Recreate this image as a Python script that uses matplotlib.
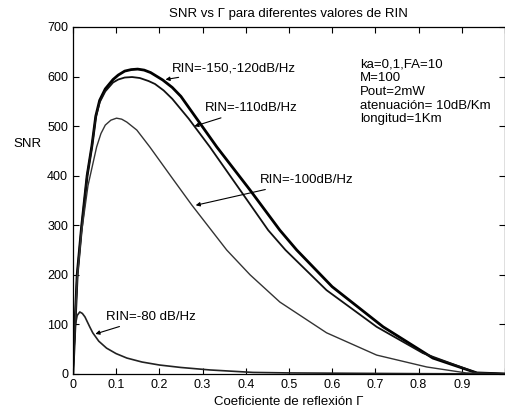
import matplotlib
matplotlib.use("Agg")
import matplotlib.pyplot as plt

plt.rcParams["font.family"] = ["Liberation Sans", "DejaVu Sans"]

# RIN = -150, -120 dB/Hz
g1 = [0.0, 0.005, 0.01, 0.02, 0.033, 0.044, 0.053, 0.062, 0.075, 0.093, 0.105,
      0.12, 0.135, 0.15, 0.165, 0.18, 0.208, 0.23, 0.25, 0.285, 0.333, 0.41,
      0.479, 0.518, 0.60, 0.718, 0.833, 0.935, 1.0]
snr1 = [0, 100, 200, 295, 400, 460, 520, 552, 575, 594, 603, 611, 614, 615,
        613, 608, 593, 578, 560, 517, 458, 371, 290, 250, 176, 95, 32, 2, 0]

# RIN = -110 dB/Hz
g2 = [0.0, 0.005, 0.01, 0.02, 0.033, 0.044, 0.053, 0.062, 0.075, 0.093, 0.105,
      0.12, 0.137, 0.155, 0.175, 0.19, 0.21, 0.23, 0.268, 0.317, 0.387, 0.452,
      0.492, 0.587, 0.703, 0.81, 0.935, 1.0]
snr2 = [0, 100, 200, 295, 400, 458, 518, 548, 570, 588, 594, 598, 599, 597,
        591, 585, 572, 555, 515, 458, 371, 290, 250, 169, 95, 42, 2, 0]

# RIN = -100 dB/Hz
g3 = [0.0, 0.005, 0.01, 0.02, 0.035, 0.055, 0.065, 0.075, 0.088, 0.101, 0.113,
      0.125, 0.148, 0.178, 0.23, 0.275, 0.356, 0.41, 0.479, 0.587, 0.703,
      0.819, 0.91, 1.0]
snr3 = [0, 95, 190, 285, 380, 458, 485, 502, 512, 516, 514, 508, 492, 458,
        395, 341, 250, 200, 145, 83, 38, 14, 2, 0]

# RIN = -80 dB/Hz
g4 = [0.0, 0.005, 0.01, 0.016, 0.022, 0.028, 0.039, 0.046, 0.06, 0.078, 0.1,
      0.125, 0.16, 0.2, 0.25, 0.317, 0.417, 0.5, 0.6, 0.7, 0.8, 0.9, 1.0]
snr4 = [0, 95, 118, 125, 122, 115, 95, 83, 66, 52, 41, 32, 24, 18, 13, 8, 3,
        2, 1.5, 1, 0.5, 0.2, 0]

params = ["ka=0,1,FA=10", "M=100", "Pout=2mW", "atenuación= 10dB/Km",
          "longitud=1Km"]

fig = plt.figure(figsize=(5.06, 4.15), dpi=100)
ax = fig.add_axes([0.144, 0.099, 0.854, 0.836])

ax.plot(g1, snr1, color="black", lw=2.0)
ax.plot(g2, snr2, color="#111111", lw=1.3)
ax.plot(g3, snr3, color="#333333", lw=1.0)
ax.plot(g4, snr4, color="#222222", lw=1.2)

ax.set_xlim(0, 1)
ax.set_ylim(0, 700)
ax.set_xticks([0, 0.1, 0.2, 0.3, 0.4, 0.5, 0.6, 0.7, 0.8, 0.9, 1.0])
ax.set_xticklabels(["0", "0.1", "0.2", "0.3", "0.4", "0.5", "0.6", "0.7",
                    "0.8", "0.9", ""])
ax.set_yticks(range(0, 701, 100))
ax.tick_params(direction="in", length=4, width=0.8, labelsize=9,
               top=True, right=True)
for s in ax.spines.values():
    s.set_linewidth(0.9)

ax.set_title("SNR vs Γ para diferentes valores de RIN", fontsize=9.5, pad=7)
ax.set_xlabel("Coeficiente de reflexión Γ", fontsize=9.5, labelpad=4)
ax.set_ylabel("SNR", fontsize=9.5, rotation=0, labelpad=0)
ax.yaxis.set_label_coords(-0.105, 0.645)

arrow = dict(arrowstyle="-|>", color="black", lw=0.8, mutation_scale=6)
ax.annotate("RIN=-150,-120dB/Hz", xy=(0.208, 593), xytext=(0.229, 617),
            fontsize=9.5, va="center", arrowprops=arrow)
ax.annotate("RIN=-110dB/Hz", xy=(0.275, 498), xytext=(0.306, 536),
            fontsize=9.5, va="center", arrowprops=arrow)
ax.annotate("RIN=-100dB/Hz", xy=(0.278, 339), xytext=(0.433, 391),
            fontsize=9.5, va="center", arrowprops=arrow)
ax.annotate("RIN=-80 dB/Hz", xy=(0.046, 79), xytext=(0.076, 115),
            fontsize=9.5, va="center", arrowprops=arrow)

for i, line in enumerate(params):
    ax.text(0.665, 624 - i * 27.5, line, fontsize=9.5, va="center")

fig.savefig("out.png", dpi=100)
